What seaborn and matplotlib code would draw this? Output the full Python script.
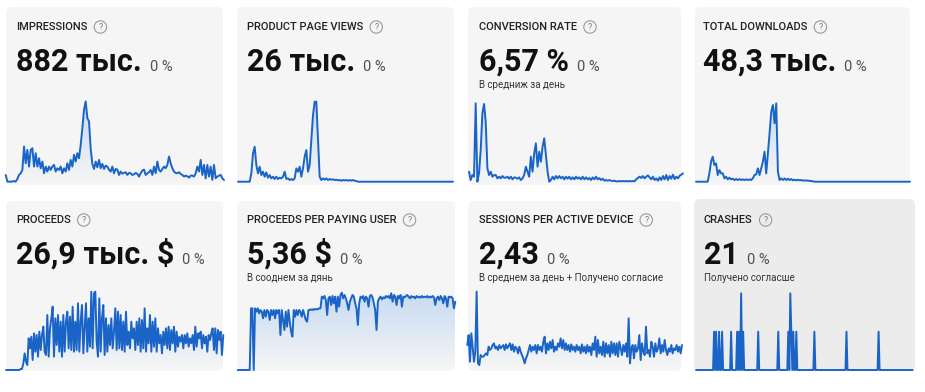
import numpy as np
import pandas as pd
import matplotlib
matplotlib.use("Agg")
import matplotlib.pyplot as plt
import seaborn as sns
from matplotlib.patches import FancyBboxPatch, Circle
from matplotlib.colors import LinearSegmentedColormap

# ── CONFIG ─────────────────────────────────────────────────────────────────────
W, H = 925, 392
LINE_COLOR = "#1a64c8"
CARD_COLOR = "#f5f5f5"
CARD_DARK = "#ececec"

# ── DATA (card texts) ──────────────────────────────────────────────────────────
TITLES = ["IMPRESSIONS", "PRODUCT PAGE VIEWS", "CONVERSION RATE", "TOTAL DOWNLOADS",
          "PROCEEDS", "PROCEEDS PER PAYING USER", "SESSIONS PER ACTIVE DEVICE", "CRASHES"]
VALUES = ["882 тыс.", "26 тыс.", "6,57 %", "48,3 тыс.",
          "26,9 тыс. $", "5,36 $", "2,43", "21"]
CHANGES = ["0 %", "0 %", "0 %", "0 %", "0 %", "0 %", "0 %", "0 %"]
SUBTITLES = ["", "", "В средниж за день", "",
             "", "В сооднем за дянь", "В среднем за день + Получено согласие",
             "Получено согласше"]

impressions = [
    22, 2, 2, 2, 2, 4, 2, 10, 22, 27, 37, 107, 57, 97, 47, 97, 102, 47, 87, 47,
    72, 42, 62, 27, 47, 32, 47, 37, 47, 52, 32, 42, 37, 47, 27, 42, 32, 57, 37, 67,
    47, 82, 62, 87, 72, 112, 162, 217, 242, 192, 182, 100, 55, 40, 62, 45, 67, 42, 55, 40,
    50, 47, 38, 32, 47, 27, 40, 38, 22, 32, 26, 28, 30, 22, 28, 27, 22, 24, 28, 25,
    17, 27, 35, 38, 22, 27, 30, 37, 22, 47, 27, 62, 37, 32, 40, 47, 42, 52, 77, 57,
    42, 32, 28, 27, 30, 25, 22, 17, 20, 18, 14, 20, 20, 17, 27, 47, 32, 67, 22, 52,
    12, 52, 17, 47, 7, 52, 12, 17, 20, 22, 12, 7,
]
page_views = [
    0, 0, 0, 0, 0, 0, 0, 0, 25, 85, 105, 50, 25, 45, 20, 30, 15, 28, 12, 20,
    10, 15, 8, 15, 8, 12, 10, 15, 30, 8, 10, 5, 8, 5, 10, 40, 30, 45, 15, 40,
    75, 95, 30, 50, 125, 200, 240, 240, 125, 15, 5, 10, 6, 10, 5, 8, 6, 7, 5, 6,
    4, 5, 3, 5, 4, 5, 3, 5, 3, 5, 3, 2,
    0, 0, 0, 0, 0, 0, 0, 0, 0, 0, 0, 0, 0, 0, 0, 0, 0, 0, 0, 0,
    0, 0, 0, 0, 0, 0, 0, 0, 0, 0, 0, 0, 0, 0, 0, 0, 0, 0, 0, 0,
    0, 0, 0, 0, 0, 0, 0, 0, 0, 0, 0, 0, 0, 0, 0, 0, 0, 0,
]
conversion = [
    30, 5, 20, 15, 235, 0, 25, 95, 205, 233, 180, 40, 20, 30, 15, 20, 20, 10, 15, 10,
    17, 12, 12, 15, 9, 15, 7, 13, 12, 9, 13, 5, 10, 20, 45, 30, 15, 75, 30, 85,
    115, 45, 90, 60, 105, 130, 80, 30, 0, 5, 15, 7, 17, 10, 17, 10, 15, 7, 15, 9,
    15, 7, 13, 7, 15, 9, 13, 7, 15, 7, 13, 7, 11, 5, 13, 7, 15, 7, 11, 5,
    9, 3, 5, 3, 5, 3, 2, 3, 1, 1, 2, 1, 2, 1, 2, 1, 2, 1, 2, 1,
    7, 11, 15, 11, 17, 10, 15, 19, 13, 7, 15, 5, 10, 3, 13, 5, 17, 7, 20, 5,
    17, 9, 21, 8, 15, 10, 18, 21, 25,
]
downloads = [
    0, 0, 0, 0, 0, 0, 0, 0, 25, 60, 75, 50, 55, 20, 35, 25, 25, 10, 15, 7,
    12, 7, 9, 5, 8, 5, 8, 5, 7, 5, 7, 5, 7, 5, 10, 20, 22, 40, 20, 40,
    60, 90, 25, 85, 145, 210, 230, 175, 235, 30, 5, 10, 5, 10, 5, 9, 5, 8, 4, 6,
    4, 6, 4, 5, 3, 4, 3, 4, 2, 2, 1,
    0, 0, 0, 0, 0, 0, 0, 0, 0, 0, 0, 0, 0, 0, 0, 0, 0, 0, 0, 0,
    0, 0, 0, 0, 0, 0, 0, 0, 0, 0, 0, 0, 0, 0, 0, 0, 0, 0, 0, 0,
    0, 0, 0, 0, 0, 0, 0, 0, 0, 0, 0, 0, 0, 0, 0, 0, 0, 0,
]
proceeds = [
    0, 0, 0, 0, 0, 0, 0, 0, 0, 0, 0, 3, 3, 20, 50, 25, 15, 95, 65, 100,
    30, 110, 55, 105, 40, 115, 60, 105, 130, 55, 45, 165, 40, 125, 155, 190, 40, 155, 75, 165,
    55, 145, 40, 165, 55, 145, 175, 65, 160, 60, 190, 55, 145, 60, 200, 55, 145, 195, 50, 125,
    200, 55, 155, 70, 235, 65, 230, 235, 85, 40, 215, 55, 155, 195, 45, 155, 55, 135, 75, 155,
    65, 115, 185, 60, 175, 65, 165, 60, 145, 55, 175, 75, 115, 65, 145, 95, 125, 60, 145, 75,
    155, 55, 150, 65, 185, 55, 125, 80, 165, 55, 145, 70, 155, 55, 125, 80, 105, 50, 115, 75,
    125, 65, 130, 60, 120, 80, 130, 55, 115, 70, 100, 85, 105, 65, 105, 80, 110, 70, 95, 80,
    105, 60, 130, 70, 110, 95, 115, 65, 105, 80, 100, 55, 105, 90, 110, 125, 60, 125, 50, 120,
    90, 115, 45, 105,
]
per_paying_user = [
    0, 0, 0, 0, 0, 0, 0, 0, 0, 0, 185, 185, 0, 185, 175, 185, 170, 180, 175, 155,
    180, 160, 180, 175, 150, 180, 165, 180, 155, 180, 170, 180, 105, 180, 150, 120, 175, 130, 180, 145,
    115, 100, 180, 160, 180, 165, 180, 175, 160, 180, 165, 150, 145, 180, 180, 182, 180, 183, 181, 183,
    182, 185, 185, 220, 215, 222, 210, 165, 215, 220, 195, 222, 200, 220, 175, 220, 190, 225, 232, 215,
    225, 215, 200, 180, 205, 215, 225, 220, 200, 185, 135, 200, 220, 215, 222, 205, 220, 215, 190, 222,
    225, 218, 200, 180, 120, 205, 215, 220, 212, 218, 215, 222, 218, 222, 215, 230, 205, 225, 220, 195,
    222, 215, 225, 190, 220, 218, 222, 225, 220, 215, 222, 218, 220, 215, 222, 218, 220, 217, 222, 218,
    220, 218, 222, 217, 220, 218, 222, 218, 195, 215, 220, 210, 222, 215, 200, 222, 215, 190, 220, 218,
    220, 215, 185, 205,
]
sessions = [
    65, 95, 15, 100, 60, 15, 45, 225, 10, 5, 35, 30, 30, 35, 40, 35, 60, 50, 55, 65,
    70, 55, 60, 50, 65, 55, 60, 65, 50, 67, 55, 63, 70, 50, 67, 45, 60, 55, 40, 60,
    45, 35, 25, 10, 25, 35, 50, 65, 45, 60, 50, 65, 40, 65, 50, 60, 45, 75, 90, 40,
    70, 50, 75, 55, 80, 45, 60, 50, 70, 60, 85, 55, 80, 50, 70, 50, 65, 45, 67, 50,
    60, 45, 65, 50, 60, 40, 67, 45, 60, 40, 65, 45, 60, 35, 70, 50, 90, 30, 80, 40,
    60, 35, 75, 30, 70, 40, 65, 30, 75, 40, 70, 35, 70, 30, 75, 55, 35, 65, 45, 70,
    30, 145, 10, 55, 65, 25, 65, 45, 55, 95, 20, 70, 45, 35, 120, 40, 50, 30, 75, 60,
    30, 70, 45, 55, 85, 40, 65, 45, 80, 50, 35, 55, 45, 65, 40, 55, 50, 65, 45, 60,
    40, 65,
]
crashes = [
    0, 0, 0, 0, 0, 0, 0, 0, 0, 0, 0, 0, 0, 0, 0, 0, 0, 0, 1, 0,
    1, 0, 0, 1, 0, 0, 1, 0, 0, 0, 0, 0, 0, 0, 0, 1, 0, 0, 0, 0,
    0, 1, 0, 1, 0, 2, 0, 1, 0, 0, 0, 0, 0, 0, 0, 0, 0, 0, 0, 0,
    0, 0, 1, 0, 0, 0, 0, 0, 0, 0, 0, 0, 0, 0, 0, 0, 0, 0, 0, 0,
    0, 0, 1, 0, 0, 0, 0, 0, 0, 0, 0, 0, 1, 0, 2, 1, 0, 1, 0, 0,
    1, 0, 0, 0, 0, 0, 0, 0, 0, 0, 0, 0, 0, 0, 0, 0, 0, 0, 1, 0,
    0, 0, 0, 0, 0, 0, 0, 0, 0, 0, 0, 0, 0, 0, 0, 0, 0, 0, 0, 0,
    0, 0, 0, 0, 0, 0, 0, 0, 0, 0, 1, 0, 0, 0, 0, 0, 0, 0, 0, 0,
    0, 0, 0, 0, 0, 0, 0, 0, 0, 0, 0, 0, 0, 0, 0, 0, 0, 0, 0, 0,
    0, 0, 1, 0, 0, 0, 0, 0, 0, 0, 0, 0, 0, 0, 0, 0, 0, 0, 0, 0,
    0, 0, 0, 0, 0, 0, 0, 0, 0, 0, 0, 0, 0, 0, 0, 0, 0,
]

# ── LAYOUT (pixels) ────────────────────────────────────────────────────────────
# card boxes: x0, y0, x1, y1
CARDS = [
    (6, 7, 223, 185), (237, 7, 454, 185), (468, 7, 681, 185), (695, 7, 910, 185),
    (6, 201, 223, 371), (237, 201, 455, 371), (468, 201, 681, 371), (694, 199, 915, 371),
]
TEXT_X = [16, 247, 479, 703, 16, 247, 479, 704]
ROW_Y = [
    {"title": 27, "value": 71, "sub": 85},
    {"title": 220, "value": 264, "sub": 278},
]
# sparkline boxes: series, x0, x1, y_top, y_bottom, y max
SPARKS = [
    (impressions, 5.7, 224, 100.7, 182.3, 244),
    (page_views, 238, 453, 101.7, 181.7, 240),
    (conversion, 469, 683, 103.3, 181.7, 235),
    (downloads, 696, 910, 101.7, 181.7, 240),
    (proceeds, 6, 223.3, 285, 370, 255),
    (per_paying_user, 237.7, 455.3, 290, 370, 240),
    (sessions, 467.3, 682, 285, 366.7, 245),
    (crashes, 696, 912.7, 293.3, 370, 2),
]

FILL_CMAP = LinearSegmentedColormap.from_list(
    "spark_fill", [(0.25, 0.55, 0.92, 0.0), (0.25, 0.55, 0.92, 0.26)])


sns.set_theme(style="white")
plt.rcParams["font.family"] = ["Roboto", "DejaVu Sans"]

fig = plt.figure(figsize=(W / 100, H / 100), dpi=100)
fig.patch.set_facecolor("white")
bg = fig.add_axes([0, 0, 1, 1])
bg.set_xlim(0, W)
bg.set_ylim(H, 0)
bg.axis("off")
renderer = fig.canvas.get_renderer()


def draw_card(i):
    x0, y0, x1, y1 = CARDS[i]
    color = CARD_DARK if i == 7 else CARD_COLOR
    bg.add_patch(FancyBboxPatch((x0, y0), x1 - x0, y1 - y0,
                                boxstyle="round,pad=0,rounding_size=6",
                                fc=color, ec="none", zorder=0))
    row = ROW_Y[i // 4]
    tx = TEXT_X[i]

    title = bg.text(tx, row["title"], TITLES[i], fontsize=8, fontweight="medium",
                    color="#202124", va="center", ha="left")
    tb = title.get_window_extent(renderer)
    qx = tb.x1 + 13
    bg.add_patch(Circle((qx, row["title"]), 6.2, fill=False, ec="#9a9a9a", lw=0.8))
    bg.text(qx, row["title"] + 0.3, "?", fontsize=6.3, color="#7a7a7a",
            ha="center", va="center")

    big = bg.text(tx, row["value"], VALUES[i], fontsize=22, fontweight="bold",
                  color="#111111", va="baseline", ha="left")
    bb = big.get_window_extent(renderer)
    bg.text(bb.x1 + 8, row["value"], CHANGES[i], fontsize=10.5, color="#505050",
            va="baseline", ha="left")

    if SUBTITLES[i]:
        bg.text(tx, row["sub"], SUBTITLES[i], fontsize=7, color="#333333",
                va="center", ha="left")


def draw_spark(values, x0, x1, y_top, y_bot, ymax):
    ax = fig.add_axes([x0 / W, 1 - y_bot / H, (x1 - x0) / W, (y_bot - y_top) / H])
    ax.patch.set_alpha(0)
    df = pd.DataFrame({"day": np.arange(len(values)), "value": values})
    n = len(df)

    # light gradient under the line
    poly = ax.fill_between(df["day"], 0, df["value"], color="none", lw=0)
    grad = np.linspace(0, 1, 256).reshape(-1, 1)
    im = ax.imshow(grad, extent=(0, n - 1, 0, ymax), origin="lower",
                   aspect="auto", cmap=FILL_CMAP, zorder=0)
    im.set_clip_path(poly.get_paths()[0], transform=ax.transData)

    sns.lineplot(data=df, x="day", y="value", ax=ax, color=LINE_COLOR,
                 lw=1.4, clip_on=False, zorder=2)
    ax.set_xlim(0, n - 1)
    ax.set_ylim(0, ymax)
    ax.axis("off")


for i in range(8):
    draw_card(i)
for spec in SPARKS:
    draw_spark(*spec)

fig.savefig("out.png", dpi=100)
